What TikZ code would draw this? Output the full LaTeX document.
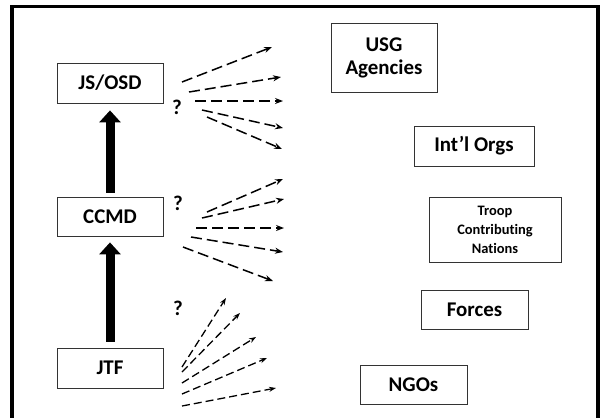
\documentclass[tikz,border=0pt]{standalone}
\usepackage{fontspec}
\setmainfont{Carlito}[Ligatures={NoCommon,NoRare}]
\usetikzlibrary{arrows.meta}
\begin{document}
\begin{tikzpicture}[x=1bp,y=-1bp,
  box/.style={draw=black!80,line width=0.8bp,inner sep=0pt,align=center,font=\bfseries\fontsize{21}{23}\selectfont},
  small/.style={font=\bfseries\fontsize{14.5}{19}\selectfont},
  dash arrow/.style={line width=1.5bp,dash pattern=on 11bp off 5bp,-{Stealth[length=8bp,width=6bp]}},
  short dash/.style={line width=1.3bp,dash pattern=on 8bp off 4bp,-{Stealth[length=7bp,width=5bp]}},
  big arrow/.style={line width=9bp,-{Triangle[length=12bp,width=21bp]}},
  qm/.style={font=\bfseries\fontsize{21}{23}\selectfont,inner sep=0pt}]
\useasboundingbox (0,0) rectangle (601,417);
\fill[white] (0,0) rectangle (601,417);
\draw[line width=3.5bp] (12,425) -- (12,6.5) -- (598,6.5) -- (598,425);

\node[box,minimum width=106bp,minimum height=40bp] (js) at (110,83) {JS/OSD};
\node[box,minimum width=106bp,minimum height=39bp] (ccmd) at (110,216.5) {CCMD};
\node[box,minimum width=106bp,minimum height=40bp] (jtf) at (110,368) {JTF};
\node[box,minimum width=106bp,minimum height=69bp] (usg) at (384,57.5) {USG\\Agencies};
\node[box,minimum width=120bp,minimum height=40bp] (intl) at (474,146) {Int’l Orgs};
\node[box,small,minimum width=132bp,minimum height=65bp] (tcn) at (495,229.5) {Troop\\Contributing\\Nations};
\node[box,minimum width=107bp,minimum height=39bp] (forces) at (474.5,309.5) {Forces};
\node[box,minimum width=107bp,minimum height=39bp] (ngo) at (413.5,384.5) {NGOs};

\node[qm] (q1) at (177,107) {?};
\node[qm] (q2) at (178,203) {?};
\node[qm] (q3) at (178,308) {?};

\draw[big arrow,shorten >=7bp,shorten <=4bp] (ccmd.north) -- (js.south);
\draw[big arrow,shorten >=6bp,shorten <=6bp] (jtf.north) -- (ccmd.south);

% JS/OSD fan
\coordinate (a1s) at (182,82);  \coordinate (a1e) at (272,47);
\coordinate (a2s) at (189,92);  \coordinate (a2e) at (281,77);
\coordinate (a3s) at (195,101); \coordinate (a3e) at (283,101);
\coordinate (a4s) at (202,110); \coordinate (a4e) at (283,128);
\coordinate (a5s) at (207,117); \coordinate (a5e) at (282,149);
\foreach \i in {1,...,5} \draw[dash arrow] (a\i s) -- (a\i e);

% CCMD fan
\coordinate (b1s) at (207,212); \coordinate (b1e) at (283,179);
\coordinate (b2s) at (202,218); \coordinate (b2e) at (284,199);
\coordinate (b3s) at (196,228); \coordinate (b3e) at (284,228);
\coordinate (b4s) at (191,237); \coordinate (b4e) at (283,252);
\coordinate (b5s) at (183,247); \coordinate (b5e) at (273,281);
\foreach \i in {1,...,5} \draw[dash arrow] (b\i s) -- (b\i e);

% JTF fan
\coordinate (c1s) at (182,367); \coordinate (c1e) at (226,298);
\coordinate (c2s) at (182,372); \coordinate (c2e) at (240,313);
\coordinate (c3s) at (182,383); \coordinate (c3e) at (256,337);
\coordinate (c4s) at (182,394); \coordinate (c4e) at (267,358);
\coordinate (c5s) at (182,406); \coordinate (c5e) at (276,388);
\foreach \i in {1,...,5} \draw[short dash] (c\i s) -- (c\i e);
\end{tikzpicture}
\end{document}
